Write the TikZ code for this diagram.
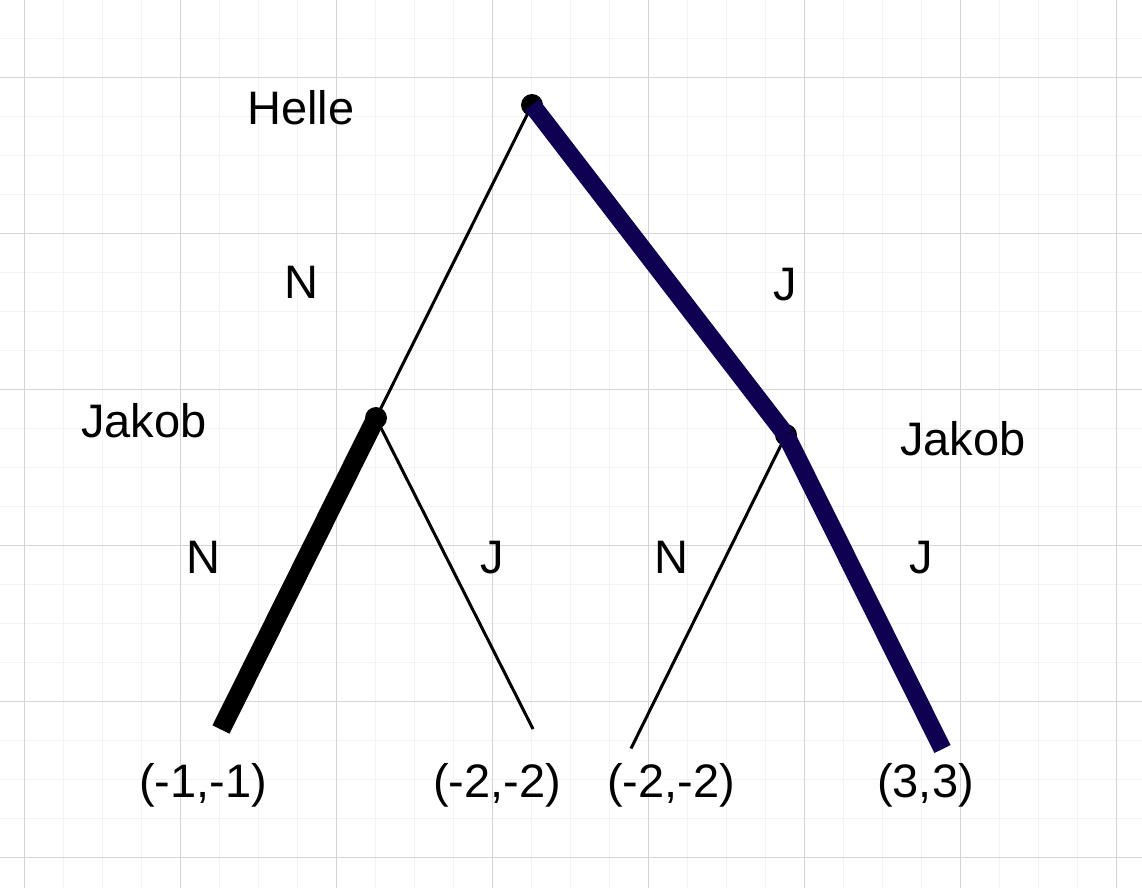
\documentclass[tikz,border=0pt]{standalone}
\usepackage{fontspec}
\setmainfont{Liberation Sans}
\usepackage{xcolor}
\usetikzlibrary{positioning}
\definecolor{navy}{RGB}{16,0,82}
\definecolor{gridMajor}{RGB}{212,212,212}
\definecolor{gridMinor}{RGB}{243,243,243}
\tikzstyle{dot} = [draw=none, fill=black, circle, inner sep=0, minimum size=11pt]	% Entscheidungsknoten
\tikzstyle{thinEdge} = [line width=1.5pt, black]										% nicht gewaehlter Zug
\tikzstyle{thickEdge} = [line width=9.5pt, black]										% bester Zug
\tikzstyle{bestEdge} = [line width=9pt, navy]											% Gleichgewichtspfad
\tikzstyle{txt} = [inner sep=0, anchor=base, font=\fontsize{23.5}{28}\selectfont]
\tikzstyle{minorLine} = [gridMinor, line width=0.5pt]
\tikzstyle{majorLine} = [gridMajor, line width=0.5pt]

\begin{document}
\begin{tikzpicture}[x=0.5pt, y=-0.5pt]
		\useasboundingbox (0,0) rectangle (1142,888);
		% Raster
		\begin{scope}
		\clip (0,0) rectangle (1142,888);
		\foreach \i in {-1,...,29} \draw[minorLine] ({24.5+39*\i},0) -- ({24.5+39*\i},888);
		\foreach \j in {-2,...,21} \draw[minorLine] (0,{77.5+39*\j}) -- (1142,{77.5+39*\j});
		\foreach \i in {0,...,7} \draw[majorLine] ({24.5+156*\i},0) -- ({24.5+156*\i},888);
		\foreach \j in {0,...,5} \draw[majorLine] (0,{77.5+156*\j}) -- (1142,{77.5+156*\j});
		\end{scope}
		
		\node[dot] (helle) at (532,105) {};						% Wurzel
		\node[dot] (jakobL) at (376,418) {};					% Jakob nach N
		\node[dot] (jakobR) at (786,435) {};					% Jakob nach J
		\coordinate (endNN) at (221,729.5);
		\coordinate (endNJ) at (533,729);
		\coordinate (endJN) at (631,748.5);
		\coordinate (endJJ) at (942.5,749);
		
		\node[txt] (lblHelle) at (301,125) {Helle};
		\node[txt] (lblJakobL) at (144,437) {Jakob};
		\node[txt] (lblJakobR) at (963,455) {Jakob};
		\node[txt] (lblN) at (301,299) {N};
		\node[txt] (lblJ) at (785.5,300) {J};
		\node[txt] (lblNN) at (203,573) {N};
		\node[txt] (lblNJ) at (492.5,573) {J};
		\node[txt] (lblJN) at (671,573) {N};
		\node[txt] (lblJJ) at (921.5,573) {J};
		\node[txt] (payNN) at (203,797) {(-1,-1)};
		\node[txt] (payNJ) at (497,797) {(-2,-2)};
		\node[txt] (payJN) at (671,797) {(-2,-2)};
		\node[txt] (payJJ) at (925.5,797) {(3,3)};
		
		% Kanten
		\draw[thinEdge] (helle.center) -- (jakobL.center);
		\draw[thinEdge] (jakobR.center) -- (endJN);
		\draw[bestEdge] (helle.center) -- (jakobR.center);
		\draw[bestEdge] (jakobR.center) -- (endJJ);
		\draw[thickEdge] (jakobL.center) -- (endNN);
		\draw[thinEdge] (jakobL.center) -- (endNJ);
\end{tikzpicture}
\end{document}
